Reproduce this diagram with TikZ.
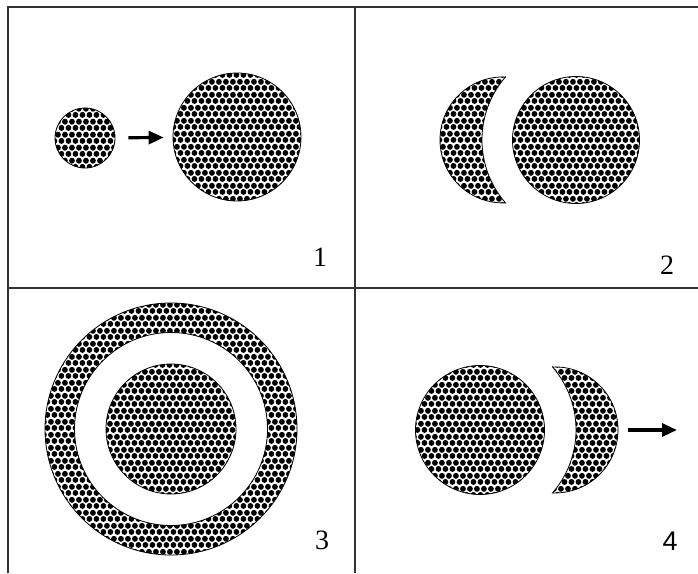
\documentclass[tikz,border=0pt]{standalone}
\usepackage{fontspec}
\setmainfont{Liberation Serif}
\setsansfont{Liberation Sans}
\usetikzlibrary{arrows.meta, patterns, positioning}

% dot texture of the discs
\pgfdeclarepatternformonly{dotgrid}{\pgfpointorigin}{\pgfqpoint{7.4pt}{12.6pt}}{\pgfqpoint{7.4pt}{12.6pt}}{%
  \pgfpathcircle{\pgfqpoint{3.7pt}{3.15pt}}{3.05pt}%
  \pgfpathcircle{\pgfqpoint{0pt}{9.45pt}}{3.05pt}%
  \pgfpathcircle{\pgfqpoint{7.4pt}{9.45pt}}{3.05pt}%
  \pgfusepath{fill}}

\begin{document}
\begin{tikzpicture}[x=1pt, y=-1pt,
  frame/.style={draw=black!80, line width=1.2pt},
  dotfill/.style={pattern=dotgrid, pattern color=black, draw=black, line width=0.8pt},
  disc/.style={circle, dotfill, inner sep=0pt},
  push/.style={-{Triangle[length=15pt, width=13pt]}, line width=3.2pt, black},
  num/.style={font=\fontsize{28}{28}\selectfont}]
  \useasboundingbox (0,0) rectangle (698,573);

  % Grid
  \draw[frame] (8,573) -- (8,7) -- (698,7);
  \draw[frame] (8,288) -- (698,288);
  \draw[frame] (355,7) -- (355,573);

  % Panel 1
  \node[disc, minimum size=60pt] (small) at (85,138) {};
  \node[disc, minimum size=128pt] (big) at (237,137) {};
  \draw[push, shorten <=13pt, shorten >=9pt] (small) -- (big);
  \node[num] (n1) at (320,257) {1};

  % Panel 2
  \path[dotfill] (505.5,77) arc[start angle=272.3, end angle=87.7, radius=63]
    arc[start angle=139, end angle=221, radius=96] -- cycle;
  \node[disc, minimum size=127pt] (right) at (576,140) {};
  \node[num] (n2) at (667,265) {2};

  % Panel 3
  \path[dotfill, even odd rule] (171,429) circle (126) (171,429) circle (96.5);
  \node[disc, minimum size=130pt] (core) at (171,429) {};
  \node[num] (n3) at (322,540) {3};

  % Panel 4
  \node[disc, minimum size=129pt] (left) at (480,430) {};
  \path[dotfill] (552.5,367) arc[start angle=267.7, end angle=452.3, radius=63]
    arc[start angle=41, end angle=-41, radius=96] -- cycle;
  \coordinate (a4) at (628,430);
  \coordinate (b4) at (677,430);
  \draw[push] (a4) -- (b4);
  \node[num, font=\sffamily\fontsize{27}{27}\selectfont] (n4) at (670,541) {4};
\end{tikzpicture}
\end{document}
